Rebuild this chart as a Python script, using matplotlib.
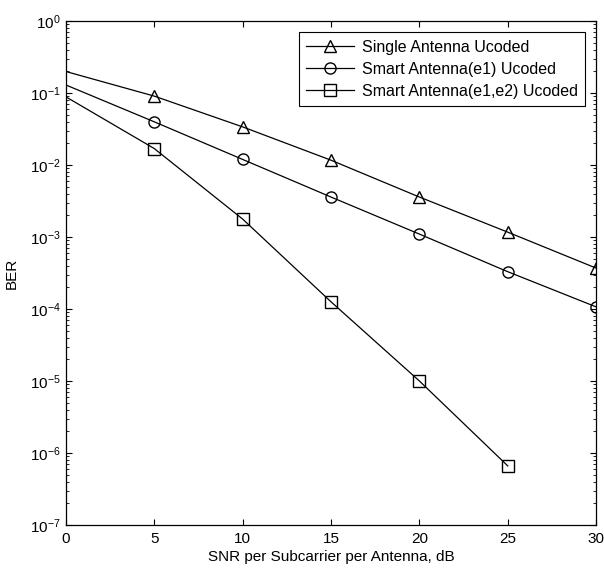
import matplotlib
matplotlib.use("Agg")
import matplotlib.pyplot as plt
from matplotlib.ticker import LogLocator, FixedLocator, NullFormatter

plt.rcParams['font.family'] = ['Liberation Sans', 'DejaVu Sans']

snr = [0, 5, 10, 15, 20, 25, 30]
ber_single = [0.2, 0.091, 0.034, 0.0117, 0.0036, 0.00117, 0.00037]
ber_e1 = [0.13, 0.04, 0.012, 0.0036, 0.0011, 0.00033, 0.000107]
snr_e12 = [0, 5, 10, 15, 20, 25]
ber_e12 = [0.089, 0.017, 0.00178, 0.000126, 1.0e-5, 6.6e-7]
labels = ["Single Antenna Ucoded", "Smart Antenna(e1) Ucoded", "Smart Antenna(e1,e2) Ucoded"]

fig = plt.figure(figsize=(6.04, 5.73), dpi=100)
ax = fig.add_axes([0.109, 0.084, 0.878, 0.879])

kw = dict(color='black', lw=0.9, markersize=8, mfc='none', mec='black', mew=1.0,
          markevery=slice(1, None))
ax.plot(snr, ber_single, marker='^', label=labels[0], **kw)
ax.plot(snr, ber_e1, marker='o', label=labels[1], **kw)
ax.plot(snr_e12, ber_e12, marker='s', label=labels[2], **kw)

ax.set_yscale('log')
ax.set_xlim(0, 30)
ax.set_ylim(1e-7, 1)
ax.xaxis.set_major_locator(FixedLocator([0, 5, 10, 15, 20, 25, 30]))
ax.yaxis.set_major_locator(LogLocator(base=10, numticks=10))
ax.yaxis.set_minor_locator(LogLocator(base=10, subs=range(2, 10), numticks=20))
ax.yaxis.set_minor_formatter(NullFormatter())
ax.tick_params(which='both', direction='in', top=True, right=True, labelsize=11)
ax.tick_params(which='major', length=4)
ax.tick_params(which='minor', length=2.5)
ax.tick_params(axis='x', pad=5)
for s in ax.spines.values():
    s.set_linewidth(0.9)

ax.set_xlabel("SNR per Subcarrier per Antenna, dB", fontsize=11, labelpad=3)
ax.set_ylabel("BER", fontsize=11, labelpad=8)

leg = ax.legend(loc='upper right', fontsize=11.5, frameon=True, fancybox=False,
                edgecolor='black', framealpha=1, borderaxespad=0.7,
                handlelength=3.0, handletextpad=0.5, labelspacing=0.45, borderpad=0.45)
leg.get_frame().set_linewidth(0.8)

fig.savefig("out.png", dpi=100)
